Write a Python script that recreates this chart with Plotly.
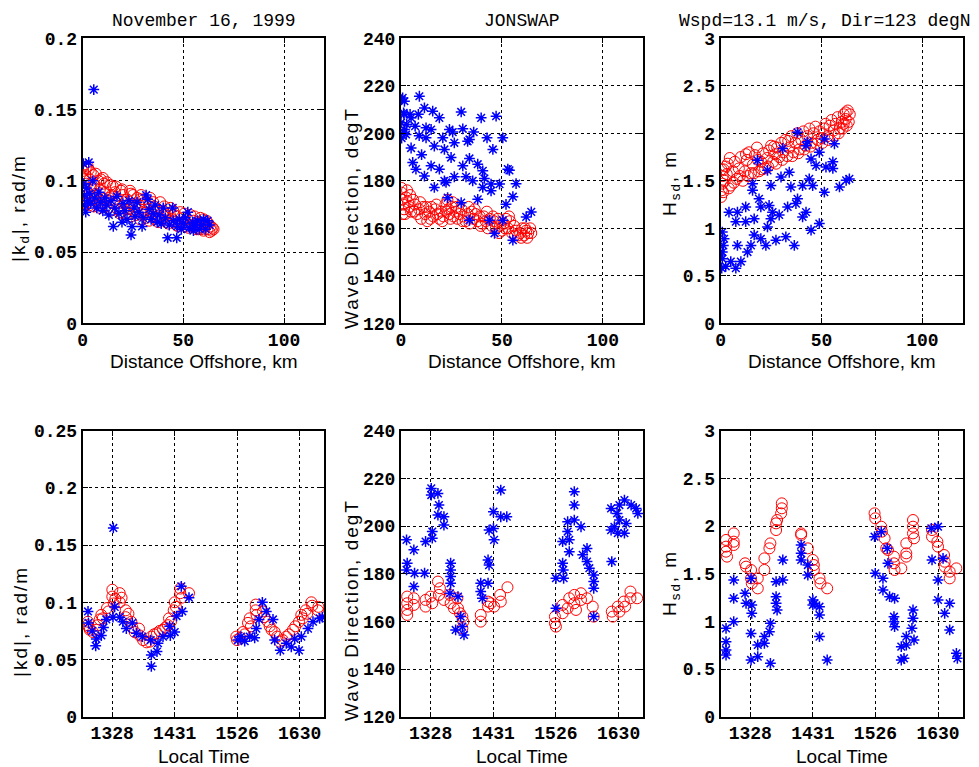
import plotly.graph_objects as go

# ---------------- data ----------------
# Top row: x = distance offshore (km)
tl_red = [(0.2,0.107),(0.5,0.101),(0.8,0.095),(1.0,0.089),(1.3,0.104),(1.8,0.098),(2.2,0.092),(2.5,0.086),(3.0,0.108),(3.5,0.101),(4.0,0.095),(4.5,0.089),(5.3,0.104),(5.8,0.097),(6.5,0.091),(7.0,0.085),(7.8,0.100),(8.5,0.094),(9.2,0.088),(9.5,0.083),(10.5,0.098),(11.0,0.092),(12.0,0.086),(12.5,0.081),(13.7,0.097),(14.5,0.090),(15.5,0.084),(16.0,0.092),(17.0,0.087),(18.0,0.082),(19.0,0.078),(20.0,0.090),(21.0,0.085),(22.0,0.087),(22.5,0.080),(23.0,0.077),(24.0,0.091),(24.5,0.084),(25.5,0.079),(26.0,0.082),(27.0,0.088),(28.0,0.083),(28.7,0.087),(29.5,0.078),(30.0,0.076),(31.0,0.085),(32.0,0.080),(33.0,0.084),(34.0,0.078),(34.5,0.075),(35.5,0.082),(36.5,0.079),(37.0,0.080),(38.0,0.074),(39.5,0.073),(40.0,0.079),(41.0,0.076),(42.0,0.077),(43.0,0.072),(44.5,0.073),(45.5,0.076),(46.0,0.071),(47.0,0.075),(48.0,0.070),(49.5,0.070),(50.0,0.074),(51.0,0.071),(52.0,0.073),(53.0,0.069),(54.5,0.068),(55.0,0.072),(56.0,0.070),(57.0,0.071),(58.0,0.067),(58.7,0.066),(59.5,0.070),(60.5,0.068),(61.0,0.069),(62.0,0.066),(63.0,0.064),(63.5,0.068),(64.5,0.067),(65.0,0.066),
          (0.3,0.110),(1.5,0.109),(2.0,0.084),(4.0,0.106),(6.0,0.087),(8.0,0.083),(10.0,0.102),(11.5,0.082),(13.0,0.088),(15.0,0.096),(17.5,0.080),(19.5,0.094),(21.5,0.077),(23.5,0.093),(26.5,0.076),(29.0,0.090),(31.5,0.074),(33.5,0.088),(36.0,0.073),(38.5,0.085),(41.5,0.071),(43.5,0.081),(46.5,0.069),(48.5,0.078),(51.5,0.068),(53.5,0.076),(56.5,0.066),(58.5,0.074),(60.0,0.065),(61.5,0.072),(62.5,0.070),(64.0,0.065),
          (0.5,0.086),(1.5,0.084),(3.5,0.083),(5.5,0.082),(8.5,0.081),(14.0,0.079),(18.5,0.077),(24.0,0.075),(28.5,0.073),(33.0,0.072),(37.5,0.071),(42.5,0.070),(47.5,0.068),(52.5,0.067),(57.5,0.066),
          (2.5,0.110),(6.5,0.105),(9.0,0.101),(12.0,0.099),(16.5,0.096),(19.0,0.093),(25.0,0.090),(30.5,0.087),(35.0,0.085),(40.5,0.082),(45.0,0.079),(50.5,0.077),(55.5,0.075),(60.0,0.073)]
tl_blue = [(0.3,0.112),(0.5,0.098),(0.8,0.090),(1.0,0.083),(1.5,0.078),(2.0,0.095),(2.5,0.086),(3.0,0.113),(3.5,0.091),(4.0,0.084),(5.0,0.100),(5.5,0.164),(6.0,0.088),(7.0,0.081),(8.0,0.092),(9.0,0.085),(10.0,0.079),(11.0,0.088),(12.0,0.083),(13.0,0.076),(14.0,0.086),(15.2,0.068),(16.0,0.081),(17.0,0.089),(18.0,0.077),(19.5,0.071),(20.0,0.084),(21.0,0.079),(22.0,0.073),(23.0,0.086),(24.0,0.062),(24.5,0.068),(25.5,0.081),(26.0,0.075),(27.0,0.085),(28.0,0.078),(29.5,0.068),(30.0,0.074),(31.5,0.090),(32.3,0.087),(33.0,0.080),(34.0,0.073),(35.0,0.077),(36.0,0.083),(37.0,0.071),(38.0,0.076),(39.0,0.070),(40.0,0.081),(41.0,0.074),(42.2,0.060),(43.0,0.069),(44.7,0.081),(45.0,0.072),(46.7,0.060),(47.0,0.068),(48.0,0.073),(49.0,0.066),(50.0,0.070),(51.0,0.074),(52.2,0.078),(53.0,0.067),(54.6,0.071),(55.0,0.065),(56.0,0.069),(57.0,0.072),(58.0,0.066),(59.0,0.069),(60.0,0.073),(61.0,0.066),(62.0,0.072),(63.0,0.069)]

tm_red = [(0.3,175),(0.5,172),(1,170),(1.5,168),(2.5,173),(3.5,171),(4,169),(5,167),(6,172),(7,170),(8,166),(9,168),(10,164),(11,169),(12,166),(13,163),(14,167),(15,169),(16,165),(17,168),(18,166),(19,164),(20,167),(21,165),(22,170),(23,172),(23.5,168),(24,166),(24.5,164),(25,169),(26,165),(27,167),(28,164),(29,166),(30,168),(31,165),(32,163),(33,166),(34,162),(35,167),(36,164),(37,166),(38,163),(39,165),(40,162),(41,165),(42,163),(43,160),(44,164),(45,161),(46,163),(47,160),(48,164),(49,161),(50,159),(51,162),(52,164),(53,160),(54,163),(55,158),(56,161),(57,159),(58,157),(59,158),(60,160),(61,157),(62,159),(63,158),(64,160),
          (0.2,177),(0.8,166),(2,166),(3,176),(4.5,174),(6.5,167),(9.5,171),(12.5,169),(14.5,164),(17.5,170),(20.5,163),(22.5,167),(25.5,171),(27.5,169),(30.5,163),(33.5,169),(36.5,168),(39.5,161),(42.5,167),(45.5,165),(48.5,158),(51.5,160),(53.5,165),(56.5,157),(59.5,156),(61.5,160),(62.5,156),(64.5,158)]
tm_blue = [(0.3,214.2),(0.8,214.9),(1.7,213.5),(9.1,215.6),(1.3,208.6),(1.5,208),(0,204.4),(4.5,208),(2.8,203.7),(7,203),(8.6,208),(9,199),(1.5,200.2),(0.3,198),(5,206.5),(11.6,210.7),(15.7,209.3),(19,206.5),(29.8,209),(39.7,206.5),(47.1,207.2),(1.7,201.6),(12.4,202.3),(14.9,201.6),(24,201.6),(30.6,201.9),(36,200.5),(25.6,200.5),(12.4,198.1),(16.5,194.6),(20.7,198.1),(26.4,196),(33.9,197.4),(33,196.6),(42.6,198.1),(50.4,198.1),(2.5,199.5),(5,193.8),(10.2,191),(21.5,193.2),(24.8,189.8),(45.5,193.2),(5.8,187.7),(7.4,184.9),(11.6,182),(14.9,186.3),(19,184.9),(30.6,186.3),(33.9,189.4),(38,187),(40.5,184.2),(41.3,181),(21.5,180),(26.4,181.7),(32.2,181.7),(16.5,177.2),(22.3,179.3),(35.5,180),(40.5,177.2),(44.6,175.8),(48.8,178.6),(52.9,184.9),(53.7,184.4),(57,178.8),(55.4,173.3),(52,170.1),(38,172.2),(29.8,170.8),(23.1,172.9),(33.9,163.4),(43.8,163.4),(46.3,157.9),(55.4,155),(64.5,166.9),(62,164.8),(50.4,163.4),(44.6,178.6)]

tr_red = [(0.2,1.33),(0.5,1.4),(0.8,1.47),(1,1.55),(1.5,1.62),(2,1.5),(3,1.57),(3.5,1.68),(5,1.45),(6,1.6),(7,1.7),(8,1.52),(9,1.63),(10,1.75),(11,1.5),(12,1.6),(13,1.72),(14,1.8),(15,1.58),(16,1.67),(17,1.77),(18,1.85),(19,1.6),(20,1.7),(21,1.79),(22,1.63),(23,1.74),(24,1.82),(25,1.87),(26,1.7),(27,1.78),(28,1.85),(29,1.75),(30,1.9),(31,1.8),(32,1.93),(33,1.76),(34,1.85),(35,1.97),(36,1.8),(37,1.9),(38,2.0),(39,1.83),(40,1.93),(41,2.02),(42,1.87),(43,1.97),(44,2.05),(45,1.9),(46,2.0),(47,2.07),(48,1.93),(49,2.02),(50,1.95),(51,2.05),(52,2.1),(53,1.97),(54,2.08),(55,2.14),(56,2.03),(57,2.1),(58,2.17),(59,2.05),(60,2.12),(61,2.2),(62,2.15),(63,2.24),(64,2.2),(62.5,2.08),(61,2.1),
          (0.3,1.62),(1.2,1.38),(2.5,1.65),(4,1.42),(4.5,1.74),(6.5,1.48),(9.5,1.55),(12.5,1.78),(13.5,1.55),(16.5,1.58),(18.5,1.72),(20.5,1.62),(23.5,1.65),(26.5,1.86),(27.5,1.68),(30.5,1.72),(33.5,1.92),(35.5,1.76),(38.5,1.79),(41.5,1.83),(44.5,1.86),(47.5,1.89),(50.5,1.9),(53.5,1.93),(56.5,1.98),(58.5,2.0),(60.5,2.05),(62,2.22),(63.5,2.12)]
tr_blue = [(0.8,0.68),(0.5,0.58),(1.3,0.82),(1.7,0.89),(0.8,0.75),(2.5,0.6),(7.5,0.58),(5,0.65),(10,0.65),(13.3,0.75),(8.3,0.82),(16.6,0.93),(15,0.82),(19.9,0.89),(22.4,0.82),(27.4,0.875),(32.3,0.91),(36.5,0.82),(23.2,1.015),(24.9,1.10),(16.6,1.10),(12.4,1.07),(7.5,1.07),(4.1,1.17),(8.3,1.17),(12.4,1.225),(19,1.31),(19.9,1.225),(24,1.24),(25.7,1.17),(29,1.14),(33.2,1.225),(37.3,1.26),(38.1,1.31),(40.6,1.12),(42.3,1.17),(44.8,0.98),(48.9,1.05),(34.8,1.435),(40.6,1.45),(43.9,1.52),(45.6,1.45),(51.4,1.38),(58.9,1.435),(62.2,1.505),(63.8,1.52),(29.9,1.54),(34,1.59),(24.9,1.45),(15.8,1.47),(15.8,1.40),(18.2,1.715),(23.2,1.61),(30.7,1.84),(38.1,2.01),(42.3,1.87),(44.8,1.73),(47.3,1.66),(52.2,1.645),(55.6,1.70),(55.6,1.63),(48.9,1.80),(51.4,1.94),(56.4,1.89),(43.1,1.91),(0.8,0.96),(0,0.72)]

# Bottom row: x = local time (axis units; ticks labelled with HHMM)
time_ticks = [13.5, 14.5, 15.5, 16.5]
time_labels = ["1328", "1431", "1526", "1630"]

bl_red = [(13.105,0.080),(13.113,0.083),(13.129,0.078),(13.14,0.076),(13.19,0.074),(13.246,0.076),(13.27,0.080),(13.3,0.085),(13.326,0.089),(13.35,0.086),(13.417,0.095),(13.44,0.092),(13.502,0.111),(13.502,0.105),(13.524,0.099),(13.55,0.103),(13.62,0.108),(13.62,0.100),(13.65,0.104),(13.716,0.093),(13.716,0.087),(13.76,0.090),(13.806,0.083),(13.822,0.078),(13.86,0.074),(13.929,0.077),(13.94,0.071),(13.993,0.067),(14.05,0.065),(14.1,0.0656),(14.126,0.070),(14.17,0.072),(14.217,0.073),(14.26,0.075),(14.313,0.076),(14.35,0.078),(14.393,0.080),(14.409,0.086),(14.44,0.083),(14.484,0.093),(14.5,0.100),(14.52,0.096),(14.59,0.112),(14.59,0.108),(14.61,0.104),(14.729,0.108),
          (15.486,0.070),(15.497,0.067),(15.55,0.069),(15.593,0.074),(15.62,0.072),(15.673,0.082),(15.7,0.086),(15.72,0.079),(15.796,0.093),(15.796,0.098),(15.81,0.089),(15.913,0.092),(15.93,0.087),(15.993,0.083),(16.02,0.079),(16.05,0.076),(16.1,0.074),(16.14,0.070),(16.18,0.0656),(16.23,0.067),(16.286,0.070),(16.33,0.072),(16.393,0.076),(16.43,0.079),(16.489,0.083),(16.526,0.089),(16.55,0.086),(16.596,0.093),(16.62,0.090),(16.687,0.100),(16.70,0.097),(16.793,0.093),(16.80,0.096)]
bl_blue = [(13.113,0.092),(13.12,0.082),(13.18,0.075),(13.246,0.068),(13.236,0.062),(13.326,0.071),(13.36,0.078),(13.406,0.085),(13.518,0.165),(13.513,0.087),(13.54,0.096),(13.62,0.087),(13.67,0.083),(13.726,0.077),(13.822,0.082),(13.886,0.073),(13.982,0.070),(14.116,0.067),(14.126,0.054),(14.126,0.044),(14.217,0.057),(14.233,0.0642),(14.313,0.070),(14.42,0.079),(14.43,0.071),(14.5,0.074),(14.53,0.088),(14.606,0.114),(14.622,0.092),(14.729,0.104),
           (15.513,0.067),(15.56,0.070),(15.62,0.066),(15.7,0.070),(15.78,0.069),(15.806,0.077),(15.85,0.085),(15.903,0.100),(15.966,0.092),(16.073,0.085),(16.1,0.067),(16.19,0.058),(16.286,0.0642),(16.366,0.061),(16.42,0.068),(16.489,0.058),(16.526,0.070),(16.633,0.077),(16.713,0.083),(16.82,0.086),(16.862,0.087)]

bm_red = [(13.127,170.4),(13.127,167.6),(13.127,164.8),(13.127,162.7),(13.233,169.7),(13.233,166.9),(13.42,169),(13.42,166.2),(13.5,170.4),(13.527,167.6),(13.617,176.7),(13.649,173.9),(13.633,171.1),(13.713,169),(13.809,171.1),(13.82,167.6),(13.873,165.5),(13.927,169.7),(13.937,165.5),(13.969,163.4),(14.007,162),(14.023,159.9),(14.007,157.1),(14.3,162.7),(14.3,159.9),(14.417,168.3),(14.417,166.2),(14.46,167.6),(14.513,166.2),(14.609,171.1),(14.62,168.3),(14.727,174.3),
          (15.484,162),(15.484,159.2),(15.5,157.8),(15.607,166.9),(15.607,163.4),(15.687,165.5),(15.713,169.7),(15.793,171.1),(15.793,167.6),(15.82,164.8),(15.9,171.8),(15.9,169),(15.996,169.7),(16.087,166.2),(16.103,162),(16.391,164.1),(16.407,162),(16.487,166.2),(16.513,164.1),(16.583,168.3),(16.604,166.2),(16.689,172.5),(16.689,169.7),(16.796,169.7)]
bm_blue = [(13.116,194.2),(13.127,184.4),(13.116,181.6),(13.233,190),(13.244,180.2),(13.233,174.6),(13.42,193.5),(13.404,180.2),(13.511,215.8),(13.511,213),(13.527,197.7),(13.527,194.9),(13.617,213.7),(13.633,208.8),(13.617,204.6),(13.713,203.9),(13.713,200.4),(13.82,184.4),(13.82,181.6),(13.82,178.8),(13.82,176),(13.809,171.8),(13.937,170.4),(13.98,162),(14.007,157.8),(13.9,156.4),(14.033,154.3),(14.3,176),(14.3,172.5),(14.327,169.7),(14.417,176),(14.417,185.8),(14.433,183.6),(14.433,198.3),(14.503,199),(14.513,194.2),(14.62,215.1),(14.62,203.9),(14.716,203.9),(14.503,206),
           (15.5,178.1),(15.5,165.5),(15.607,193.5),(15.607,184.4),(15.617,181.6),(15.623,178.1),(15.687,197.7),(15.713,194.2),(15.713,189.2),(15.687,201.8),(15.793,214.4),(15.793,208.8),(15.793,202.5),(15.9,199.7),(15.927,187.9),(15.996,190.6),(15.996,185.1),(16.033,182.3),(16.103,179.5),(16.103,176.7),(16.103,173.9),(16.103,162),(16.38,207.4),(16.38,198.3),(16.391,185.1),(16.476,205.3),(16.487,197),(16.513,208.8),(16.513,202.5),(16.593,210.9),(16.62,201.1),(16.7,208.8),(16.78,207.4),(16.807,205.3),(16.593,197),(16.433,199.7)]

br_red = [(13.113,1.854),(13.113,1.784),(13.113,1.731),(13.129,1.679),(13.236,1.923),(13.236,1.836),(13.236,1.801),(13.417,1.609),(13.433,1.574),(13.513,1.539),(13.513,1.451),(13.524,1.399),(13.62,1.451),(13.62,1.346),(13.726,1.539),(13.726,1.661),(13.806,1.766),(13.822,1.818),(13.913,1.958),(13.913,2.028),(13.929,2.063),(13.993,2.133),(14.004,2.186),(14.004,2.238),(14.313,1.923),(14.313,1.906),(14.42,1.766),(14.5,1.644),(14.516,1.591),(14.516,1.539),(14.606,1.451),(14.622,1.399),(14.729,1.346),
          (15.486,2.133),(15.497,2.081),(15.593,1.993),(15.604,1.941),(15.646,1.871),(15.673,1.766),(15.7,1.749),(15.796,1.679),(15.796,1.609),(15.806,1.539),(15.913,1.556),(15.993,1.818),(15.993,1.714),(15.993,1.679),(16.1,2.063),(16.1,1.993),(16.1,1.923),(16.116,1.871),(16.404,1.958),(16.404,1.888),(16.489,1.836),(16.5,1.784),(16.596,1.696),(16.606,1.626),(16.606,1.574),(16.686,1.521),(16.686,1.451),(16.793,1.556)]
br_blue = [(13.236,1.434),(13.236,1.242),(13.236,0.997),(13.113,0.927),(13.113,0.787),(13.113,0.7),(13.113,0.647),(13.417,1.294),(13.433,1.189),(13.524,1.172),(13.524,1.084),(13.513,1.451),(13.513,0.874),(13.513,0.595),(13.62,0.752),(13.62,0.63),(13.726,0.77),(13.726,0.84),(13.806,0.892),(13.822,0.979),(13.822,0.56),(13.913,1.259),(13.913,1.189),(13.929,1.119),(13.913,1.416),(14.02,1.434),(14.02,1.644),(14.313,1.801),(14.313,1.714),(14.313,1.644),(14.42,1.591),(14.42,1.486),(14.5,1.224),(14.5,1.172),(14.526,1.189),(14.606,1.154),(14.606,1.067),(14.606,0.84),(14.729,0.595),
           (15.486,1.888),(15.497,1.504),(15.593,1.941),(15.62,1.451),(15.62,1.329),(15.689,1.766),(15.7,1.609),(15.726,1.259),(15.806,1.242),(15.796,1.049),(15.796,0.997),(15.806,0.944),(15.913,0.735),(15.913,0.595),(15.993,0.84),(15.993,0.752),(16.083,0.927),(16.1,1.032),(16.1,1.119),(16.116,0.805),(15.956,0.612),(16.393,1.976),(16.404,1.644),(16.5,1.993),(16.5,1.434),(16.5,1.224),(16.58,1.661),(16.606,1.084),(16.686,1.189),(16.686,0.91),(16.793,0.665),(16.809,0.612)]

# ---------------- figure ----------------
W, H = 979, 767
OFF = 8  # page body margin: paper coordinates are relative to the plot div
def fx(p): return (p - OFF) / W
def fy(p): return 1 - (p - OFF) / H

cols = [(82.7, 324.3), (401.0, 643.3), (720.7, 962.7)]
rows = [(38.3, 323.3), (430.7, 716.7)]

panels = [
    (tl_red, tl_blue, 0, 0, [0, 120], [0, 0.2], 0.05),
    (tm_red, tm_blue, 0, 1, [0, 120], [120, 240], 20),
    (tr_red, tr_blue, 0, 2, [0, 120], [0, 3], 0.5),
    (bl_red, bl_blue, 1, 0, [13.028, 16.894], [0, 0.25], 0.05),
    (bm_red, bm_blue, 1, 1, [13.028, 16.894], [120, 240], 20),
    (br_red, br_blue, 1, 2, [13.028, 16.894], [0, 3], 0.5),
]

fig = go.Figure()
tickfont = dict(family="Liberation Mono", size=18, color="black", weight="bold")
layout = {}
for i, (red, blue, r, c, xr, yr, dy) in enumerate(panels):
    n = i + 1
    xa = "x" if n == 1 else f"x{n}"
    ya = "y" if n == 1 else f"y{n}"
    for data, sym, col, size, lw in [(red, "circle-open", "red", 11, 1), (blue, "asterisk-open", "blue", 9, 1.5)]:
        xs, ys = zip(*data)
        fig.add_trace(go.Scatter(x=xs, y=ys, mode="markers", xaxis=xa, yaxis=ya,
                                 marker=dict(symbol=sym, size=size, color=col,
                                             line=dict(color=col, width=lw)),
                                 showlegend=False, cliponaxis=True))
    common = dict(showline=True, linecolor="black", linewidth=2, mirror="ticks",
                  ticks="inside", ticklen=5, tickcolor="black", tickwidth=1,
                  showgrid=True, gridcolor="black", gridwidth=1, griddash="3px,3px",
                  zeroline=False, tickfont=tickfont, automargin=False)
    xd = dict(common, domain=[fx(cols[c][0]), fx(cols[c][1])], range=xr,
              anchor=ya, ticklabelstandoff=-1)
    if r == 0:
        xd.update(tickmode="array", tickvals=[0, 50, 100], ticktext=["0", "50", "100"])
    else:
        xd.update(tickmode="array", tickvals=time_ticks, ticktext=time_labels)
    yd = dict(common, domain=[fy(rows[r][1]), fy(rows[r][0])], range=yr,
              anchor=xa, dtick=dy, tick0=yr[0], ticklabelstandoff=0)
    layout["xaxis" if n == 1 else f"xaxis{n}"] = xd
    layout["yaxis" if n == 1 else f"yaxis{n}"] = yd

lab = dict(family="Liberation Sans", size=19, color="black")
tit = dict(family="Liberation Mono", size=18, color="black")
ann = []
# titles
ann.append(dict(text="November 16, 1999", x=fx(203.5), y=fy(21), font=tit))
ann.append(dict(text="JONSWAP", x=fx(522), y=fy(21), font=tit))
ann.append(dict(text="Wspd=13.1 m/s, Dir=123 degN", x=fx(825), y=fy(21), font=tit))
# x labels
for c in range(3):
    cx = (cols[c][0] + cols[c][1]) / 2
    ann.append(dict(text="Distance Offshore, km", x=fx(cx), y=fy(361), font=lab))
    ann.append(dict(text="Local Time", x=fx(cx), y=fy(756), font=lab))
# y labels (text, x centre, y centre in page pixels)
sp = '<span style="letter-spacing:2px">%s</span>'
ylabels = [
    (sp % "|k<sub>d</sub>|, rad/m", 20, 208),
    (sp % "Wave Direction, degT", 351, 218),
    (sp % "H<sub>sd</sub>, m", 671, 183),
    (sp % "|kd|, rad/m", 20, 622),
    (sp % "Wave Direction, degT", 351, 610),
    (sp % "H<sub>sd</sub>, m", 671, 583),
]
for t, x, y in ylabels:
    ann.append(dict(text=t, x=fx(x), y=fy(y), font=lab, textangle=-90))
for a in ann:
    a.update(xref="paper", yref="paper", showarrow=False, xanchor="center", yanchor="middle")

fig.update_layout(template="none", width=W, height=H,
                  margin=dict(l=0, r=0, t=0, b=0, pad=0, autoexpand=False),
                  paper_bgcolor="white", plot_bgcolor="white",
                  annotations=ann, **layout)
fig.write_html("out.html")
